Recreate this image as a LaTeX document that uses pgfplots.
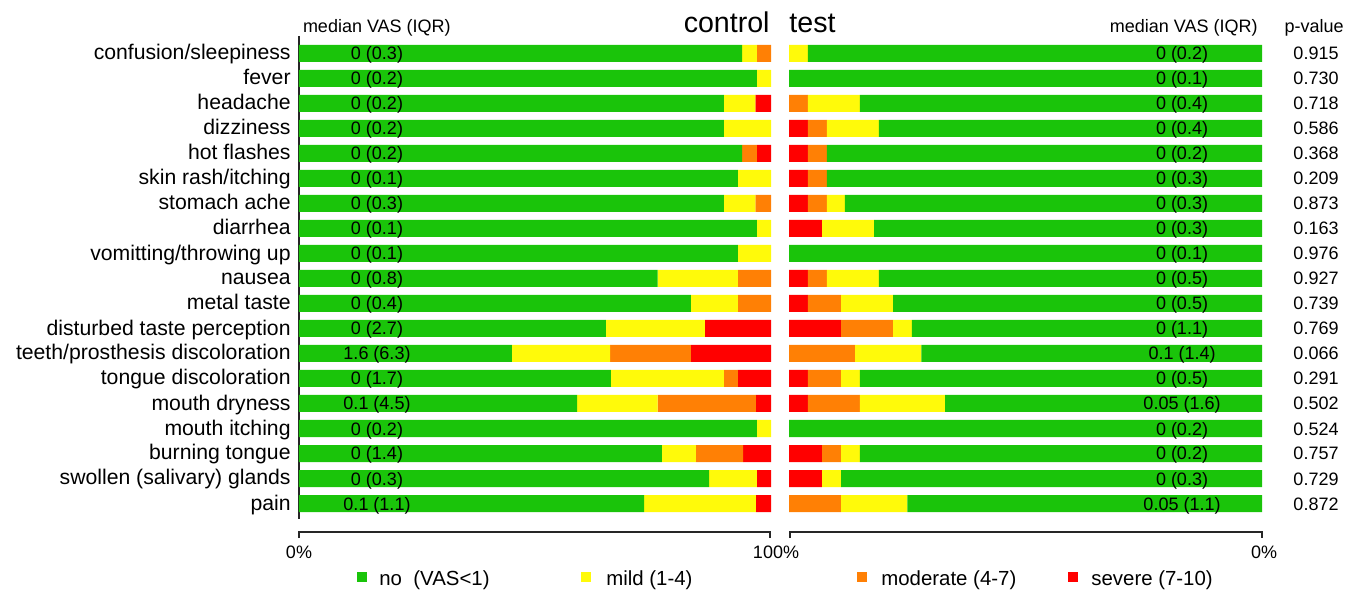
\documentclass[border=0pt]{standalone}
\usepackage{fontspec}
\setmainfont{Liberation Sans}
\usepackage{pgfplots}
\usepackage{pgfplotstable}
\pgfplotsset{compat=1.18}
\definecolor{cno}{RGB}{26,196,10}
\definecolor{cmild}{RGB}{255,250,10}
\definecolor{cmod}{RGB}{255,128,5}
\definecolor{csev}{RGB}{255,0,0}
\newcommand\fs[1]{\fontsize{#1}{#1}\selectfont}

\pgfplotstableread{
cat no mild mod sev
1 93.9 3.1 3.0 0
2 97.0 3.0 0 0
3 90.0 6.7 0 3.3
4 90.0 10.0 0 0
5 93.9 0 3.1 3.0
6 93.0 7.0 0 0
7 90.0 6.7 3.3 0
8 97.0 3.0 0 0
9 93.0 7.0 0 0
10 76.0 17.0 7.0 0
11 83.0 10.0 7.0 0
12 65.0 21.0 0 14.0
13 45.1 20.8 17.1 17.0
14 66.1 23.9 3.0 7.0
15 58.9 17.1 20.8 3.2
16 97.0 3.0 0 0
17 76.9 7.2 10.0 5.9
18 86.9 10.1 0 3.0
19 73.1 23.7 0 3.2
}\control

\pgfplotstableread{
cat no mild mod sev
1 96.0 4.0 0 0
2 100 0 0 0
3 85.0 11.0 4.0 0
4 81.0 11.0 4.0 4.0
5 92.0 0 4.0 4.0
6 92.0 0 4.0 4.0
7 88.2 3.8 4.0 4.0
8 82.0 11.0 0 7.0
9 100 0 0 0
10 81.0 11.0 4.0 4.0
11 78.0 11.0 7.0 4.0
12 74.0 4.0 11.0 11.0
13 72.0 14.0 14.0 0
14 85.0 4.0 7.0 4.0
15 67.0 18.0 11.0 4.0
16 100 0 0 0
17 85.0 4.0 4.0 7.0
18 89.0 4.0 0 7.0
19 75.0 14.0 11.0 0
}\test

\begin{document}
\begin{tikzpicture}
\useasboundingbox (0,0) rectangle (674pt,294.5pt);
\pgfplotsset{
  panel/.style={
    xbar stacked, bar width=0.68, scale only axis,
    height=241.5pt, ymin=0.30, ymax=19.62, y dir=reverse,
    xmin=0, xmax=100, enlargelimits=false, clip=false,
    xtick=\empty, anchor=north west,
  },
}
% control panel
\begin{axis}[panel, at={(149.5pt,276.5pt)}, width=236pt,
  axis x line=none, axis y line*=left,
  y axis line style={line width=0.6pt, black!85},
  ytick={1,...,19}, major tick length=0pt,
  yticklabels={confusion/sleepiness, fever, headache, dizziness, hot flashes,
    skin rash/itching, stomach ache, diarrhea, vomitting/throwing up, nausea,
    metal taste, disturbed taste perception, teeth/prosthesis discoloration,
    tongue discoloration, mouth dryness, mouth itching, burning tongue,
    swollen (salivary) glands, pain},
  yticklabel style={font=\fs{10.6}, inner sep=0pt, text height=8.5pt, text depth=2pt, anchor=east},
  yticklabel shift=4pt,
]
\addplot[fill=cno, draw=none] table[x=no, y=cat]{\control};
\addplot[fill=cmild, draw=none] table[x=mild, y=cat]{\control};
\addplot[fill=cmod, draw=none] table[x=mod, y=cat]{\control};
\addplot[fill=csev, draw=none] table[x=sev, y=cat]{\control};
\end{axis}
% test panel
\begin{axis}[panel, at={(394.5pt,276.5pt)}, width=236.5pt, x dir=reverse, hide axis]
\addplot[fill=cno, draw=none] table[x=no, y=cat]{\test};
\addplot[fill=cmild, draw=none] table[x=mild, y=cat]{\test};
\addplot[fill=cmod, draw=none] table[x=mod, y=cat]{\test};
\addplot[fill=csev, draw=none] table[x=sev, y=cat]{\test};
\end{axis}

% offset x axes
\draw[line width=0.6pt, black!85] (149.5pt,25.5pt) -- (149.5pt,28.5pt) -- (385pt,28.5pt) -- (385pt,25.5pt);
\draw[line width=0.6pt, black!85] (395pt,25.5pt) -- (395pt,28.5pt) -- (631pt,28.5pt) -- (631pt,25.5pt);
\node[font=\fs{9}, anchor=base, inner sep=0pt] at (149.5pt,15.5pt) {0\%};
\node[font=\fs{9}, anchor=base, inner sep=0pt] at (388pt,15.5pt) {100\%};
\node[font=\fs{9}, anchor=base, inner sep=0pt] at (632pt,15.5pt) {0\%};

% headers
\node[font=\fs{9}, anchor=base west, inner sep=0pt] at (151.3pt,278pt) {median VAS (IQR)};
\node[font=\fs{14.3}, anchor=base east, inner sep=0pt] at (385pt,278pt) {control};
\node[font=\fs{14.3}, anchor=base west, inner sep=0pt] at (394.5pt,278pt) {test};
\node[font=\fs{9}, anchor=base east, inner sep=0pt] at (629pt,278pt) {median VAS (IQR)};
\node[font=\fs{9}, anchor=base, inner sep=0pt] at (657pt,278pt) {p-value};

% median values
\foreach \t [count=\i] in {{0 (0.3)},{0 (0.2)},{0 (0.2)},{0 (0.2)},{0 (0.2)},{0 (0.1)},{0 (0.3)},{0 (0.1)},{0 (0.1)},{0 (0.8)},{0 (0.4)},{0 (2.7)},{1.6 (6.3)},{0 (1.7)},{0.1 (4.5)},{0 (0.2)},{0 (1.4)},{0 (0.3)},{0.1 (1.1)}}
  \node[font=\fs{9}, anchor=base, inner sep=0pt] at (188.5pt,{267.75pt-12.5pt*(\i-1)-3.25pt}) {\t};
\foreach \t [count=\i] in {{0 (0.2)},{0 (0.1)},{0 (0.4)},{0 (0.4)},{0 (0.2)},{0 (0.3)},{0 (0.3)},{0 (0.3)},{0 (0.1)},{0 (0.5)},{0 (0.5)},{0 (1.1)},{0.1 (1.4)},{0 (0.5)},{0.05 (1.6)},{0 (0.2)},{0 (0.2)},{0 (0.3)},{0.05 (1.1)}}
  \node[font=\fs{9}, anchor=base, inner sep=0pt] at (591pt,{267.75pt-12.5pt*(\i-1)-3.25pt}) {\t};
\foreach \t [count=\i] in {0.915,0.730,0.718,0.586,0.368,0.209,0.873,0.163,0.976,0.927,0.739,0.769,0.066,0.291,0.502,0.524,0.757,0.729,0.872}
  \node[font=\fs{9}, anchor=base, inner sep=0pt] at (658pt,{267.75pt-12.5pt*(\i-1)-3.25pt}) {\t};

% legend
\fill[cno] (178.5pt,3.5pt) rectangle (183.5pt,8.5pt);
\node[font=\fs{10.2}, anchor=base west, inner sep=0pt] at (189.5pt,2pt) {no\ \ (VAS<1)};
\fill[cmild] (290.5pt,3.5pt) rectangle (295.5pt,8.5pt);
\node[font=\fs{10.2}, anchor=base west, inner sep=0pt] at (303pt,2pt) {mild (1-4)};
\fill[cmod] (428.5pt,3.5pt) rectangle (433.5pt,8.5pt);
\node[font=\fs{10.2}, anchor=base west, inner sep=0pt] at (440.5pt,2pt) {moderate (4-7)};
\fill[csev] (534pt,3.5pt) rectangle (539pt,8.5pt);
\node[font=\fs{10.2}, anchor=base west, inner sep=0pt] at (545.5pt,2pt) {severe (7-10)};
\end{tikzpicture}
\end{document}
